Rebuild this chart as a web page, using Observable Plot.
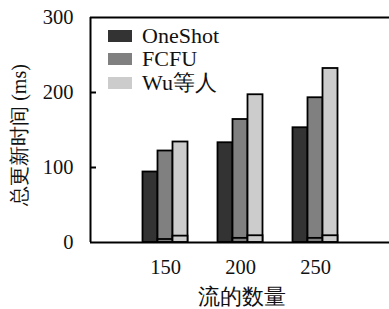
<!DOCTYPE html>
<html><head><meta charset="utf-8">
<script src="https://cdn.jsdelivr.net/npm/d3@7"></script>
<script src="https://cdn.jsdelivr.net/npm/@observablehq/plot@0.6"></script>
<style>
body{margin:0;background:#fff;}
#chart{position:relative;width:389px;height:309px;overflow:hidden;}
#legend{position:absolute;left:108px;top:24px;font-size:22px;font-family:'Liberation Serif',serif;color:#111;line-height:1;}
#legend .row{display:flex;align-items:center;height:23.5px;}
#legend .sw{width:24px;height:12px;margin-right:10px;}
</style>
</head><body><div id="chart"><div id="legend"></div></div>
<script>
const flows = [150, 200, 250];
const series = ["OneShot", "FCFU", "Wu等人"];
const oneShot = [94, 133, 153];
const fcfu = [122, 164, 193];
const wu = [134, 197, 232];
// small stacked base segment at the bottom of the bars
const oneShotBase = [0, 0, 0];
const fcfuBase = [4, 5.5, 5.5];
const wuBase = [8.5, 9, 9];
const colors = ["#333333", "#808080", "#cccccc"];
const yTicks = [0, 100, 200, 300];
const innerTicks = [100, 200];
const xDomain = [100, 300];

const values = [oneShot, fcfu, wu];
const bases = [oneShotBase, fcfuBase, wuBase];
const rows = [];
flows.forEach((f, i) => series.forEach((s, j) => {
  rows.push({flow: f, series: s, j, value: values[j][i], base: bases[j][i]});
}));
const off = (d) => d.flow + (d.j - 1) * 10;
const FONT = "'Liberation Serif', serif";

const plot = Plot.plot({
  width: 389, height: 309,
  marginLeft: 90, marginRight: 0, marginTop: 17, marginBottom: 67,
  style: {fontFamily: FONT, fontSize: "20px", color: "#111", background: "#fff"},
  x: {type: "linear", domain: xDomain, range: [90, 390]},
  y: {domain: [0, 300]},
  color: {domain: series, range: colors},
  marks: [
    Plot.rectY(rows, {x1: d => off(d) - 5, x2: d => off(d) + 5, y1: 0, y2: "value", fill: "series", stroke: "black", strokeWidth: 1.8}),
    Plot.rectY(rows.filter(d => d.base > 0), {x1: d => off(d) - 5, x2: d => off(d) + 5, y1: 0, y2: "base", fill: "series", stroke: "black", strokeWidth: 1.8}),
    Plot.ruleY([0, 300], {stroke: "black", strokeWidth: 2}),
    Plot.ruleX([xDomain[0]], {y1: 0, y2: 300, stroke: "black", strokeWidth: 2}),
    Plot.ruleY(innerTicks, {x1: xDomain[0], x2: xDomain[0] + 4, stroke: "black", strokeWidth: 2}),
    Plot.axisY(yTicks, {tickSize: 0, tickPadding: 17, fontFamily: FONT, fontSize: 20.5, label: null}),
    Plot.text(["总更新时间 (ms)"], {frameAnchor: "left", textAnchor: "middle", lineAnchor: "middle", dx: -71, dy: 5, rotate: -90, fontFamily: FONT, fontSize: 20, fill: "#111"}),
    Plot.axisX(flows, {tickSize: 0, tickPadding: 17, fontFamily: FONT, fontSize: 20.5, label: null}),
    Plot.text(["流的数量"], {frameAnchor: "bottom", textAnchor: "middle", lineAnchor: "middle", dx: 2, dy: 55, fontFamily: FONT, fontSize: 21.5, fill: "#111"})
  ]
});
document.getElementById("chart").prepend(plot);

const lg = document.getElementById("legend");
series.forEach((s, j) => {
  const r = document.createElement("div"); r.className = "row";
  const sw = document.createElement("div"); sw.className = "sw"; sw.style.background = colors[j];
  const t = document.createElement("span"); t.textContent = s;
  r.append(sw, t); lg.append(r);
});
</script>
</body></html>
